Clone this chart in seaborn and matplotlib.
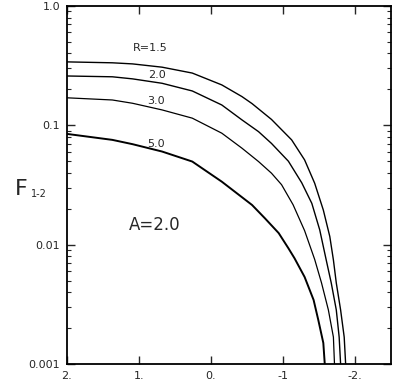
import matplotlib
matplotlib.use("Agg")
import matplotlib.pyplot as plt
import seaborn as sns
import pandas as pd
import numpy as np
from matplotlib.ticker import LogLocator, NullFormatter

# ---- data ----
x_r15 = [2.0, 1.37, 1.09, 0.68, 0.26, -0.15, -0.43, -0.57, -0.84, -1.12, -1.30, -1.44, -1.56, -1.65, -1.70, -1.74, -1.80, -1.85, -1.87]
f_r15 = [0.340, 0.334, 0.327, 0.307, 0.274, 0.218, 0.174, 0.152, 0.112, 0.0755, 0.0513, 0.0327, 0.0195, 0.0117, 0.00745, 0.00478, 0.00284, 0.00168, 0.00100]

x_r20 = [2.0, 1.37, 1.09, 0.68, 0.26, -0.15, -0.43, -0.66, -0.84, -1.075, -1.26, -1.40, -1.51, -1.60, -1.67, -1.74, -1.78, -1.80]
f_r20 = [0.259, 0.255, 0.245, 0.225, 0.194, 0.148, 0.111, 0.0885, 0.0705, 0.050, 0.033, 0.0222, 0.0133, 0.00745, 0.00478, 0.00284, 0.00168, 0.00100]

x_r30 = [2.0, 1.37, 1.09, 0.68, 0.26, -0.15, -0.43, -0.66, -0.84, -0.98, -1.14, -1.30, -1.44, -1.535, -1.63, -1.70, -1.715]
f_r30 = [0.170, 0.163, 0.153, 0.1346, 0.1148, 0.0859, 0.0643, 0.0497, 0.0397, 0.0318, 0.0216, 0.0131, 0.00752, 0.00478, 0.00284, 0.00168, 0.00100]

x_r50 = [2.0, 1.37, 1.09, 0.68, 0.26, -0.15, -0.57, -0.75, -0.94, -1.075, -1.16, -1.30, -1.425, -1.49, -1.56, -1.58]
f_r50 = [0.0847, 0.0755, 0.0695, 0.0603, 0.0497, 0.0337, 0.0215, 0.0166, 0.0125, 0.00933, 0.00769, 0.00536, 0.00344, 0.00234, 0.0015, 0.00100]

curve_names = ["R=1.5", "2.0", "3.0", "5.0"]
y_ticks = [0.001, 0.01, 0.1, 1.0]
y_tick_labels = ["0.001", "0.01", "0.1", "1.0"]
x_ticks = [2, 1, 0, -1, -2]
x_tick_labels = ["2.", "1.", "0.", "-1", "-2."]
annotation = "A=2.0"
ylabel_main = "F"
ylabel_sub = "1-2"

frames = []
for name, xs, fs in zip(curve_names, [x_r15, x_r20, x_r30, x_r50], [f_r15, f_r20, f_r30, f_r50]):
    frames.append(pd.DataFrame({"x": xs, "F": fs, "curve": name}))
df = pd.concat(frames, ignore_index=True)

sns.set_style("ticks")
plt.rcParams["font.family"] = ["DejaVu Sans"]

fig = plt.figure(figsize=(4.0, 3.9), dpi=100)
ax = fig.add_axes([0.1675, 0.0667, 0.81, 0.918])

widths = {"R=1.5": 1.0, "2.0": 1.0, "3.0": 0.9, "5.0": 1.4}
for name in curve_names:
    sub = df[df["curve"] == name]
    sns.lineplot(data=sub, x="x", y="F", sort=False, estimator=None, color="black",
                 linewidth=widths[name], ax=ax, legend=False)

ax.set_yscale("log")
ax.set_ylim(0.001, 1.0)
ax.set_xlim(2.0, -2.5)

ax.set_yticks(y_ticks)
ax.set_yticklabels(y_tick_labels)
ax.yaxis.set_minor_locator(LogLocator(base=10, subs=np.arange(2, 10)))
ax.yaxis.set_minor_formatter(NullFormatter())
ax.set_xticks(x_ticks)
ax.set_xticklabels(x_tick_labels)

ax.tick_params(axis="both", which="major", direction="in", length=6, width=1,
               top=True, right=True, labelsize=8, pad=5)
ax.tick_params(axis="y", which="minor", direction="in", length=3, width=0.8, right=True)
for s in ax.spines.values():
    s.set_linewidth(1.3)
    s.set_color("black")

ax.set_xlabel("")
ax.set_ylabel("")
fig.text(0.036, 0.5, ylabel_main, fontsize=16, ha="left", va="baseline")
fig.text(0.078, 0.495, ylabel_sub, fontsize=7, ha="left", va="baseline")

label_pos = {"R=1.5": (0.256, 0.883), "2.0": (0.278, 0.807), "3.0": (0.275, 0.735), "5.0": (0.275, 0.615)}
for name in curve_names:
    px, py = label_pos[name]
    ax.text(px, py, name, transform=ax.transAxes, fontsize=8, ha="center", va="center")
ax.text(0.272, 0.388, annotation, transform=ax.transAxes, fontsize=12, ha="center", va="center")

fig.savefig("out.png", dpi=100)
